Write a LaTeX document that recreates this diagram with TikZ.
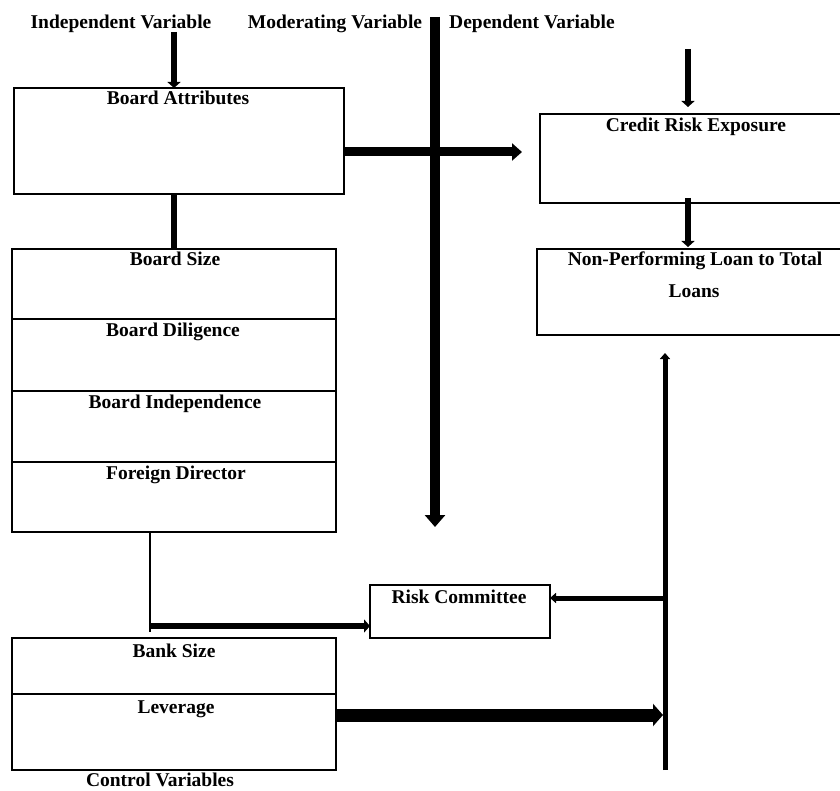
\documentclass[tikz,border=0pt]{standalone}
\usepackage{fontspec}
\setmainfont{Liberation Serif}
\usetikzlibrary{arrows.meta}
\begin{document}
\begin{tikzpicture}[x=1pt,y=-1pt,
  box/.style={draw, line width=1.2pt, rectangle, anchor=north west, inner sep=0pt, outer sep=0pt},
  lbl/.style={font=\bfseries\fontsize{19.5}{22}\selectfont, anchor=base, inner sep=0pt},
  arrsix/.style={line width=6pt, -{Triangle[length=6pt,width=13pt]}},
  barsix/.style={line width=6pt},
  arrbig/.style={line width=10pt, -{Triangle[length=12pt,width=20pt]}},
  arrnine/.style={line width=9pt, -{Triangle[length=10pt,width=17pt]}},
  arrfive/.style={line width=5pt, -{Triangle[length=6pt,width=10pt]}},
  arrlev/.style={line width=13pt, -{Triangle[length=10pt,width=22pt]}},
  thinline/.style={line width=1.3pt}]
\useasboundingbox (0,0) rectangle (840,791);

% headings
\node[lbl] (iv) at (121,29) {Independent Variable};
\node[lbl] (mv) at (335,29) {Moderating Variable};
\node[lbl] (dv) at (532,29) {Dependent Variable};

% independent side
\node[box, minimum width=330pt, minimum height=106pt] (ba) at (14,88) {};
\node[lbl] (baT) at (178,105) {Board Attributes};

\node[box, minimum width=324pt, minimum height=70pt] (bs) at (12,249) {};
\node[box, minimum width=324pt, minimum height=72pt] (bd) at (12,319) {};
\node[box, minimum width=324pt, minimum height=71pt] (bi) at (12,391) {};
\node[box, minimum width=324pt, minimum height=70pt] (fd) at (12,462) {};
\node[lbl] (bsT) at (175,266) {Board Size};
\node[lbl] (bdT) at (173,337) {Board Diligence};
\node[lbl] (biT) at (175,408) {Board Independence};
\node[lbl] (fdT) at (176,479) {Foreign Director};

% dependent side
\node[box, minimum width=310pt, minimum height=89pt] (cre) at (540,114) {};
\node[lbl] (creT) at (696,132) {Credit Risk Exposure};
\node[box, minimum width=310pt, minimum height=86pt] (npl) at (537,249) {};
\node[lbl] (nplT) at (695,266) {Non-Performing Loan to Total};
\node[lbl] (nplT2) at (694,298) {Loans};

% moderating
\node[box, minimum width=180pt, minimum height=53pt] (rc) at (370,585) {};
\node[lbl] (rcT) at (459,603) {Risk Committee};

% controls
\node[box, minimum width=324pt, minimum height=56pt] (bsz) at (12,638) {};
\node[box, minimum width=324pt, minimum height=76pt] (lev) at (12,694) {};
\node[lbl] (bszT) at (174,657) {Bank Size};
\node[lbl] (levT) at (176,713) {Leverage};
\node[lbl] (cv) at (160,786) {Control Variables};

% coordinates for free ends
\coordinate (c1) at (174,32);
\coordinate (m1) at (435,17);
\coordinate (m2) at (435,527);
\coordinate (h1) at (522,152);
\coordinate (c2) at (688,49);
\coordinate (r1) at (665,770);
\coordinate (r3) at (665,598);
\coordinate (t1) at (150,632);
\coordinate (t2) at (150,626);
\coordinate (l1) at (663,715);

% connectors
\draw[arrsix] (c1) -- (c1 |- ba.north);
\draw[barsix] (bs.north |- ba.south) -- (bs.north);
\draw[line width=10pt] (m1) -- ([yshift=20pt]m2);
\draw[arrbig] ([yshift=40pt]m2) -- (m2);
\draw[arrnine] (ba.east |- h1) -- (h1);
\draw[arrsix, shorten >=7pt] (c2) -- (c2 |- cre.north);
\draw[arrsix] ([yshift=5pt]cre.south -| c2) -- ([yshift=2pt]npl.north -| c2);
\draw[arrfive] (r1) -- ([yshift=-18pt]npl.south -| r1);
\draw[arrfive] (r3) -- (r3 -| rc.east);
\draw[thinline] (fd.south -| t1) -- (t1);
\draw[arrsix] (t2) -- (t2 -| rc.west);
\draw[arrlev] (l1 -| lev.east) -- (l1);
\end{tikzpicture}
\end{document}
